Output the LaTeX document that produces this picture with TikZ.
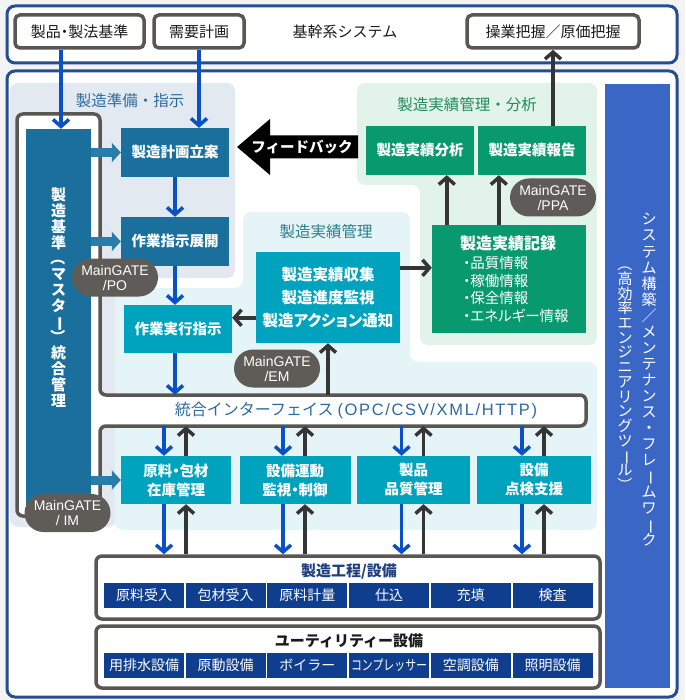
\documentclass[tikz,border=0pt]{standalone}
\usepackage{fontspec}
\setmainfont{Noto Sans CJK JP}
\newfontfamily\latinsans{Liberation Sans}
\newfontfamily\ifcsans[LetterSpace=10]{Liberation Sans}
\usepackage{graphicx}
\usetikzlibrary{positioning,chains,calc,arrows.meta}
\definecolor{pagebg}{HTML}{F3F3F3}
\definecolor{kikanblue}{HTML}{244E90}
\definecolor{framegray}{HTML}{5A5652}
\definecolor{pillgray}{HTML}{5F5B56}
\definecolor{prepbg}{HTML}{E3E9F1}
\definecolor{preptext}{HTML}{2F6C9E}
\definecolor{prepbox}{HTML}{1B6F9C}
\definecolor{preparrow}{HTML}{2A7CAB}
\definecolor{jissekibg}{HTML}{E5F4F7}
\definecolor{jissekitext}{HTML}{2B7F8C}
\definecolor{cyanbox}{HTML}{00A3BE}
\definecolor{bunsekibg}{HTML}{E2F3E9}
\definecolor{bunsekitext}{HTML}{1F8C5C}
\definecolor{greenbox}{HTML}{08996F}
\definecolor{flowblue}{HTML}{0A50C6}
\definecolor{flowgray}{HTML}{353535}
\definecolor{navycell}{HTML}{0F3E8F}
\definecolor{navytext}{HTML}{1E3F80}
\definecolor{toolblue}{HTML}{3A66C6}
\definecolor{ifctext}{HTML}{2E6AA0}
\definecolor{inkblack}{HTML}{1A1A1A}
\newcommand{\tatekana}[1]{\smash{\rotatebox[origin=c]{-90}{#1}}}
\newcommand{\tsume}{\addfontfeatures{RawFeature=+palt}}

\begin{document}
\begin{tikzpicture}
  [
    x=1pt, y=-1pt,
    start chain=koteirow going right,
    start chain=utilrow going right,
    node distance=1.3pt,
    kihon/.style={draw=framegray, line width=3.5pt, rounded corners=5pt, fill=white,
      minimum height=33pt, inner sep=0pt, text=inkblack, font=\fontsize{15}{18}\selectfont\tsume},
    heading/.style={inner sep=0pt, font=\fontsize{15.5}{18}\selectfont},
    panel/.style={inner sep=0pt, text=white, align=center, font=\fontsize{14.5}{19}\selectfont\bfseries\tsume},
    junbi/.style={panel, fill=prepbox, minimum width=108pt, minimum height=49pt},
    jisseki/.style={panel, fill=cyanbox, minimum height=48pt},
    midori/.style={panel, fill=greenbox, minimum width=108pt, minimum height=49pt},
    gate/.style={fill=pillgray, text=white, rounded corners=19pt, minimum width=86pt,
      minimum height=38pt, inner sep=0pt, align=center, font=\latinsans\fontsize{14}{15}\selectfont},
    cell/.style={fill=navycell, text=white, minimum width=80pt, minimum height=25pt,
      inner sep=0pt, font=\fontsize{14}{16}\selectfont},
    kcell/.style={cell, on chain=koteirow},
    ucell/.style={cell, on chain=utilrow},
    tate/.style={text=white, align=center, inner sep=0pt,
      execute at begin node={\lineskiplimit=-100pt}},
    flow/.style={draw=flowblue, line width=3.5pt, -{Straight Barb[length=7pt,width=16pt]}},
    back/.style={draw=flowgray, line width=3.5pt, -{Straight Barb[length=7pt,width=16pt]}},
    feed/.style={draw=preparrow, line width=9pt, -{Triangle[length=9pt,width=19pt]}}
  ]
  \fill[pagebg] (0,0) rectangle (685,700);
  \useasboundingbox (0,0) rectangle (685,700);

  \draw[kikanblue, line width=3pt, fill=white, rounded corners=8pt] (7,6) rectangle (677,63);
  \draw[kikanblue, line width=3pt, fill=white, rounded corners=8pt] (7,71) rectangle (677,697);

  \node[kihon, minimum width=129pt] (seihin) at (79.5,31.5) {製品・製法基準};
  \node[kihon, minimum width=90pt] (juyo) at (199,31.5) {需要計画};
  \node[kihon, minimum width=172pt] (sogyo) at (553,31.5) {操業把握／原価把握};
  \node[heading, text=inkblack, font=\fontsize{15}{18}\selectfont] (kikan) at (345,31.5) {基幹系システム};

  \fill[prepbg, rounded corners=8pt] (10,83) -- (235,83) -- (235,278) -- (116,278)
    -- (116,527) -- (10,527) -- cycle;
  \fill[bunsekibg, rounded corners=8pt] (357,83) -- (597,83) -- (597,345) -- (420,345)
    -- (420,185) -- (357,185) -- cycle;
  \fill[jissekibg, rounded corners=8pt] (243,212) -- (410,212) -- (410,362) -- (597,362)
    -- (597,530) -- (115,530) -- (115,288) -- (243,288) -- cycle;

  \node[heading, text=preptext] (junbit) at (130,101) {製造準備・指示};
  \node[heading, text=bunsekitext] (bunsekit) at (467,105) {製造実績管理・分析};
  \node[heading, text=jissekitext] (jissekit) at (326,232) {製造実績管理};

  \draw[framegray, line width=3.5pt, fill=white, rounded corners=6pt]
    (17,114) -- (100,114) -- (100,395) -- (586,395) -- (586,426) -- (100,426)
    -- (100,516) -- (17,516) -- cycle;

  \node[fill=prepbox, minimum width=65pt, minimum height=382pt, inner sep=0pt] (master) at (58.5,320) {};
  \node[tate, font=\fontsize{15}{15.8}\selectfont\bfseries] (mastertxt) at (58.5,297.5)
    {製\\造\\基\\準\\\tatekana{（}\\マ\\ス\\タ\\\tatekana{ー}\\\tatekana{）}\\統\\合\\管\\理};

  \node[fill=toolblue, minimum width=65pt, minimum height=604pt, inner sep=0pt] (tool) at (637.5,386) {};
  \node[tate, font=\fontsize{15}{16.05}\selectfont] (tool1) at (649,380)
    {シ\\ス\\テ\\ム\\構\\築\\／\\メ\\ン\\テ\\ナ\\ン\\ス\\・\\フ\\レ\\\tatekana{ー}\\ム\\ワ\\\tatekana{ー}\\ク};
  \node[tate, font=\fontsize{15}{14.7}\selectfont] (tool2) at (625,380)
    {\tatekana{（}\\高\\効\\率\\エ\\ン\\ジ\\ニ\\ア\\リ\\ン\\グ\\ツ\\\tatekana{ー}\\ル\\\tatekana{）}};

  \node[junbi] (rikuan) at (175,152.5) {製造計画立案};
  \node[junbi] (tenkai) at (175,241.5) {作業指示展開};
  \node[jisseki, minimum width=108pt] (jikko) at (178,329) {作業実行指示};
  \node[jisseki, minimum width=144pt, minimum height=91pt, font=\fontsize{15.5}{23}\selectfont\bfseries\tsume]
    (shushu) at (328,297.5) {製造実績収集\\製造進度監視\\製造アクション通知};

  \node[midori] (bunseki) at (420,150.5) {製造実績分析};
  \node[midori] (hokoku) at (532,150.5) {製造実績報告};
  \node[midori, minimum width=154pt, minimum height=108pt] (kiroku) at (509,279) {};
  \node[heading, text=white, font=\fontsize{16}{18}\selectfont\bfseries] (kirokut) at (508,243) {製造実績記録};
  \node[anchor=west, inner sep=0pt, text=white, align=left, font=\fontsize{14.5}{17.6}\selectfont\tsume]
    (kirokul) at (463,289.5) {・品質情報\\・稼働情報\\・保全情報\\・エネルギー情報};

  \fill (358,135.5) -- (270,135.5) -- (270,119) -- (237,147) -- (270,175) -- (270,158.5)
    -- (358,158.5) -- cycle;
  \node[inner sep=0pt, text=white, font=\fontsize{14.5}{16}\selectfont\bfseries] (fb) at (302,147) {フィードバック};

  \node[minimum width=400pt, minimum height=31pt, inner sep=0pt, text=ifctext,
    font=\fontsize{16}{18}\selectfont] (ifc) at (356,410.5)
    {統合インターフェイス\hspace{4pt}{\ifcsans\fontsize{16.5}{18}\selectfont(OPC/CSV/XML/HTTP)}};

  \node[jisseki, minimum width=110pt] (zaiko) at (176,480) {原料・包材\\在庫管理};
  \node[jisseki, minimum width=111pt] (setsubi) at (295,480) {設備運動\\監視・制御};
  \node[jisseki, minimum width=113pt] (hinshitsu) at (413.5,480) {製品\\品質管理};
  \node[jisseki, minimum width=114pt] (tenken) at (534,480) {設備\\点検支援};

  \node[draw=framegray, line width=3.5pt, rounded corners=6pt, fill=white,
    minimum width=504pt, minimum height=63pt] (kotei) at (348,587.5) {};
  \node[heading, text=navytext, font=\fontsize{15}{18}\selectfont\bfseries] (koteit) at (349,571.5) {製造工程/設備};
  \node[kcell] (k1) at (144,595.5) {原料受入};
  \node[kcell] (k2) {包材受入};
  \node[kcell] (k3) {原料計量};
  \node[kcell] (k4) {仕込};
  \node[kcell] (k5) {充填};
  \node[kcell] (k6) {検査};

  \node[draw=framegray, line width=3.5pt, rounded corners=6pt, fill=white,
    minimum width=504pt, minimum height=62pt] (util) at (348,657) {};
  \node[heading, text=inkblack, font=\fontsize{15}{18}\selectfont\bfseries] (utilt) at (349,641) {ユーティリティー設備};
  \node[ucell] (u1) at (144,665.5) {用排水設備};
  \node[ucell] (u2) {原動設備};
  \node[ucell] (u3) {ボイラー};
  \node[ucell] (u4) {\scalebox{0.78}[1]{コンプレッサー}};
  \node[ucell] (u5) {空調設備};
  \node[ucell] (u6) {照明設備};

  \coordinate (s1) at ([xshift=-18.5pt]seihin.south);
  \draw[flow] (s1) -- (s1 |- master.north);
  \draw[flow] (juyo.south) -- (juyo.south |- rikuan.north);
  \draw[flow] (rikuan.south) -- (tenkai.north);
  \draw[flow] (tenkai.south) -- (tenkai.south |- jikko.north);
  \draw[flow] (jikko.south -| tenkai) -- (tenkai |- ifc.north);

  \draw[feed] (master.east |- rikuan) -- (rikuan.west);
  \draw[feed] (master.east |- tenkai) -- (tenkai.west);
  \draw[feed] (master.east |- zaiko) -- (zaiko.west);

  \coordinate (r1) at ([yshift=-16pt]shushu.north east);
  \draw[back] (r1) -- (r1 -| kiroku.west);
  \coordinate (r2) at ([yshift=-66pt]shushu.north west);
  \draw[back] (r2) -- (r2 -| jikko.east);
  \draw[back] (shushu.south |- ifc.north) -- (shushu.south);
  \coordinate (r3) at ([xshift=15pt]kiroku.north west);
  \draw[back] (r3) -- (r3 |- bunseki.south);
  \coordinate (r4) at ([xshift=67pt]kiroku.north west);
  \draw[back] (r4) -- (r4 |- hokoku.south);
  \draw[back] (hokoku.north -| sogyo) -- (sogyo.south);

  \draw[flow] ($(zaiko.north |- ifc.south)+(-12,0)$) -- ($(zaiko.north)+(-12,0)$);
  \draw[back] ($(zaiko.north)+(10,0)$) -- ($(zaiko.north |- ifc.south)+(10,0)$);
  \draw[flow] ($(zaiko.south)+(-12,0)$) -- ($(zaiko.south |- kotei.north)+(-12,0)$);
  \draw[back] ($(zaiko.south |- kotei.north)+(10,0)$) -- ($(zaiko.south)+(10,0)$);

  \draw[flow] ($(setsubi.north |- ifc.south)+(-12,0)$) -- ($(setsubi.north)+(-12,0)$);
  \draw[back] ($(setsubi.north)+(10,0)$) -- ($(setsubi.north |- ifc.south)+(10,0)$);
  \draw[flow] ($(setsubi.south)+(-12,0)$) -- ($(setsubi.south |- kotei.north)+(-12,0)$);
  \draw[back] ($(setsubi.south |- kotei.north)+(10,0)$) -- ($(setsubi.south)+(10,0)$);

  \draw[flow] ($(hinshitsu.north |- ifc.south)+(-12,0)$) -- ($(hinshitsu.north)+(-12,0)$);
  \draw[back] ($(hinshitsu.north)+(10,0)$) -- ($(hinshitsu.north |- ifc.south)+(10,0)$);
  \draw[flow] ($(hinshitsu.south)+(-12,0)$) -- ($(hinshitsu.south |- kotei.north)+(-12,0)$);
  \draw[back] ($(hinshitsu.south |- kotei.north)+(10,0)$) -- ($(hinshitsu.south)+(10,0)$);

  \draw[flow] ($(tenken.north |- ifc.south)+(-12,0)$) -- ($(tenken.north)+(-12,0)$);
  \draw[back] ($(tenken.north)+(10,0)$) -- ($(tenken.north |- ifc.south)+(10,0)$);
  \draw[flow] ($(tenken.south)+(-12,0)$) -- ($(tenken.south |- kotei.north)+(-12,0)$);
  \draw[back] ($(tenken.south |- kotei.north)+(10,0)$) -- ($(tenken.south)+(10,0)$);

  \node[gate] (gpo) at (115,277.5) {MainGATE\\/PO};
  \node[gate] (gppa) at (553,197.5) {MainGATE\\/PPA};
  \node[gate] (gem) at (277,368.5) {MainGATE\\/EM};
  \node[gate] (gim) at (67.5,513) {MainGATE\\/ IM};
\end{tikzpicture}
\end{document}
